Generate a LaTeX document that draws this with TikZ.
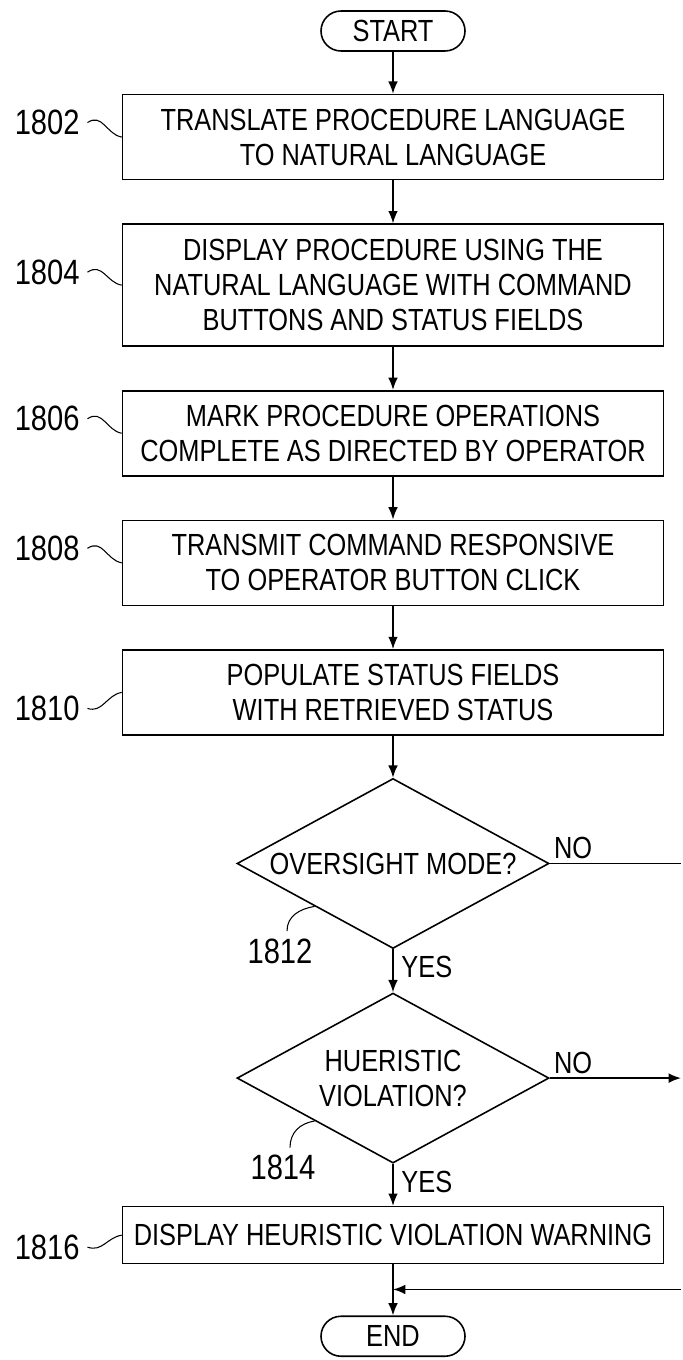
\documentclass[tikz,border=0pt]{standalone}
\usepackage{fontspec}
\setmainfont{Liberation Sans}[FakeStretch=0.83]
\usepackage{tikz}
\usetikzlibrary{positioning}
\usetikzlibrary{shapes, backgrounds}
\usetikzlibrary{arrows.meta}
\usetikzlibrary{calc}
\tikzstyle{line} = [draw, -{Latex[length=7pt, width=5.5pt]}]

\begin{document}
\begin{tikzpicture}[internal/.style={draw, rectangle, inner sep=4pt, minimum width=10.82cm, minimum height=1.7cm},
				terminal/.style={draw, rectangle, rounded corners=0.4cm, minimum width=2.88cm, minimum height=0.8cm},
				decision/.style={draw, diamond, aspect=1.835, inner sep=0pt, minimum width=6.24cm, minimum height=3.4cm},
				refnum/.style={font=\fontsize{20}{22}\selectfont, inner sep=4pt},
				every node/.style={font=\fontsize{17.4}{20}\selectfont},
				every text node part/.style={align=center},
				line width=0.9pt]
				\useasboundingbox (0,0) rectangle (13.64,-27.2);
				\coordinate (rim) at (13.62,0);
				
				\node[terminal](nodeStart) at (7.86, -0.62) {START};
				\node[internal, below=0.84cm of nodeStart](node1802) {TRANSLATE PROCEDURE LANGUAGE\\TO NATURAL LANGUAGE};
				\node[internal, minimum height=2.44cm, below=0.86cm of node1802](node1804) {DISPLAY PROCEDURE USING THE\\NATURAL LANGUAGE WITH COMMAND\\BUTTONS AND STATUS FIELDS};
				\node[internal, below=0.86cm of node1804](node1806) {MARK PROCEDURE OPERATIONS\\COMPLETE AS DIRECTED BY OPERATOR};
				\node[internal, below=0.86cm of node1806](node1808) {TRANSMIT COMMAND RESPONSIVE\\TO OPERATOR BUTTON CLICK};
				\node[internal, below=0.86cm of node1808](node1810) {POPULATE STATUS FIELDS\\WITH RETRIEVED STATUS};
				\node[decision, below=0.84cm of node1810](node1812) {OVERSIGHT MODE?};
				\node[decision, below=0.86cm of node1812](node1814) {HUERISTIC\\VIOLATION?};
				\node[internal, minimum height=1.14cm, below=0.84cm of node1814](node1816) {DISPLAY HEURISTIC VIOLATION WARNING};
				\node[terminal, below=1.02cm of node1816](nodeEnd) {END};
				\coordinate[below=0.5cm of node1816] (merge);
				
				% reference numerals
				\node[refnum](lbl1802) at ($(node1802.west)+(-1.49,0.29)$) {1802};
				\node[refnum](lbl1804) at ($(node1804.west)+(-1.49,0.26)$) {1804};
				\node[refnum](lbl1806) at ($(node1806.west)+(-1.49,0.29)$) {1806};
				\node[refnum](lbl1808) at ($(node1808.west)+(-1.49,0.29)$) {1808};
				\node[refnum](lbl1810) at ($(node1810.west)+(-1.49,-0.32)$) {1810};
				\node[refnum](lbl1812) at ($(node1812.south)+(-2.26,-0.04)$) {1812};
				\node[refnum](lbl1814) at ($(node1814.south)+(-2.2,-0.08)$) {1814};
				\node[refnum](lbl1816) at ($(node1816.west)+(-1.49,-0.24)$) {1816};
				
				\foreach \n in {1802,1804,1806,1808}
					\draw[line width=0.6pt] (lbl\n.east) .. controls +(0.3,0.2) and +(-0.3,0.05) .. (node\n.west);
				\foreach \n in {1810,1816}
					\draw[line width=0.6pt] (lbl\n.east) .. controls +(0.3,-0.1) and +(-0.3,-0.05) .. (node\n.west);
				\foreach \n in {1812,1814}
					\draw[line width=0.6pt] ($(lbl\n.north)+(0.14,0)$) .. controls +(0,0.3) and +(-0.3,-0.05) .. ($(node\n.west)!0.5!(node\n.south)$);
				
				% flow
				\draw[line] (nodeStart) -- (node1802);
				\draw[line] (node1802) -- (node1804);
				\draw[line] (node1804) -- (node1806);
				\draw[line] (node1806) -- (node1808);
				\draw[line] (node1808) -- (node1810);
				\draw[line] (node1810) -- (node1812);
				\draw[line] (node1812) -- node[right=1pt, pos=0.4] {YES} (node1814);
				\draw[line] (node1814) -- node[right=1pt, pos=0.42] {YES} (node1816);
				\draw (node1812.east) -- node[anchor=south west, pos=0, inner sep=2pt] {NO} (node1812.east -| rim);
				\draw[line] (node1814.east) -- node[anchor=south west, pos=0, inner sep=2pt] {NO} (node1814.east -| rim);
				\draw[line] (merge -| rim) -- (merge);
				\draw[line] (node1816) -- (nodeEnd);
			\end{tikzpicture}
\end{document}
